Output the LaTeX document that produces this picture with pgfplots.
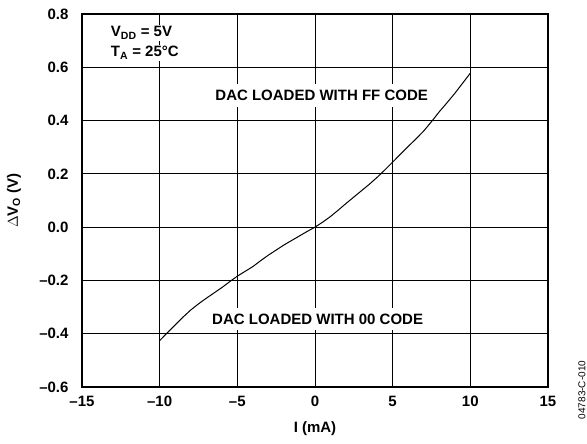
\documentclass[border=0pt]{standalone}
\usepackage{pgfplots}
\pgfplotsset{compat=1.18}
\usepackage{fontspec}
\setmainfont{Liberation Sans}
\begin{document}
\begin{tikzpicture}[font=\fontsize{15}{18}\selectfont\bfseries]
\begin{axis}[
  scale only axis, width=466pt, height=373pt,
  xmin=-15, xmax=15, ymin=-0.6, ymax=0.8,
  xtick={-15,-10,-5,0,5,10,15},
  xticklabels={\textendash15,\textendash10,\textendash5,0,5,10,15},
  ytick={-0.6,-0.4,-0.2,0,0.2,0.4,0.6,0.8},
  yticklabels={\textendash0.6,\textendash0.4,\textendash0.2,0.0,0.2,0.4,0.6,0.8},
  grid=major,
  major grid style={black, line width=0.8pt},
  major tick length=0pt,
  axis line style={line width=1.3pt},
  xticklabel style={yshift=-5.5pt},
  yticklabel style={xshift=-10pt},
  xlabel={I (mA)},
  ylabel={$\Delta$V\textsubscript{O} (V)},
  x label style={at={(axis description cs:0.5,0)}, anchor=center, yshift=-42pt},
  y label style={at={(axis description cs:-0.146,0.5)}, anchor=center},
]
\addplot[black, line width=1pt] coordinates {
(-10,-0.426) (-9.5,-0.396) (-9,-0.367) (-8.5,-0.338) (-8,-0.311) (-7.5,-0.288) (-7,-0.267) (-6.5,-0.247) (-6,-0.227)
(-5.5,-0.205) (-5,-0.184) (-4.5,-0.166) (-4,-0.148) (-3.5,-0.126) (-3,-0.105) (-2.5,-0.086) (-2,-0.067) (-1.5,-0.050)
(-1,-0.033) (-0.5,-0.016) (0,0) (0.5,0.019) (1,0.040) (1.5,0.064)
(2,0.089) (2.5,0.113) (3,0.137) (3.5,0.161) (4,0.187) (4.5,0.215) (5,0.244) (5.5,0.274) (6,0.303) (6.5,0.331) (7,0.361) (7.5,0.396)
(8,0.433) (8.5,0.467) (9,0.502) (9.5,0.540) (10,0.578)
};
\node[fill=white, inner xsep=3pt, inner ysep=6pt] at (axis cs:0.43,0.494) {DAC LOADED WITH FF CODE};
\node[fill=white, inner xsep=3pt, inner ysep=6pt] at (axis cs:0.17,-0.345) {DAC LOADED WITH 00 CODE};
\node[anchor=west, fill=white, inner sep=2pt] at (axis cs:-13.28,0.729) {V\textsubscript{DD} = 5V};
\node[anchor=west, fill=white, inner sep=2pt] at (axis cs:-13.28,0.654) {T\textsubscript{A} = 25°C};
\end{axis}
\node[rotate=90, font=\fontsize{10}{12}\selectfont\mdseries] at (500pt,-3pt) {04783-C-010};
\pgfresetboundingbox
\path (-82pt,-57pt) rectangle (505pt,387pt);
\end{tikzpicture}
\end{document}
